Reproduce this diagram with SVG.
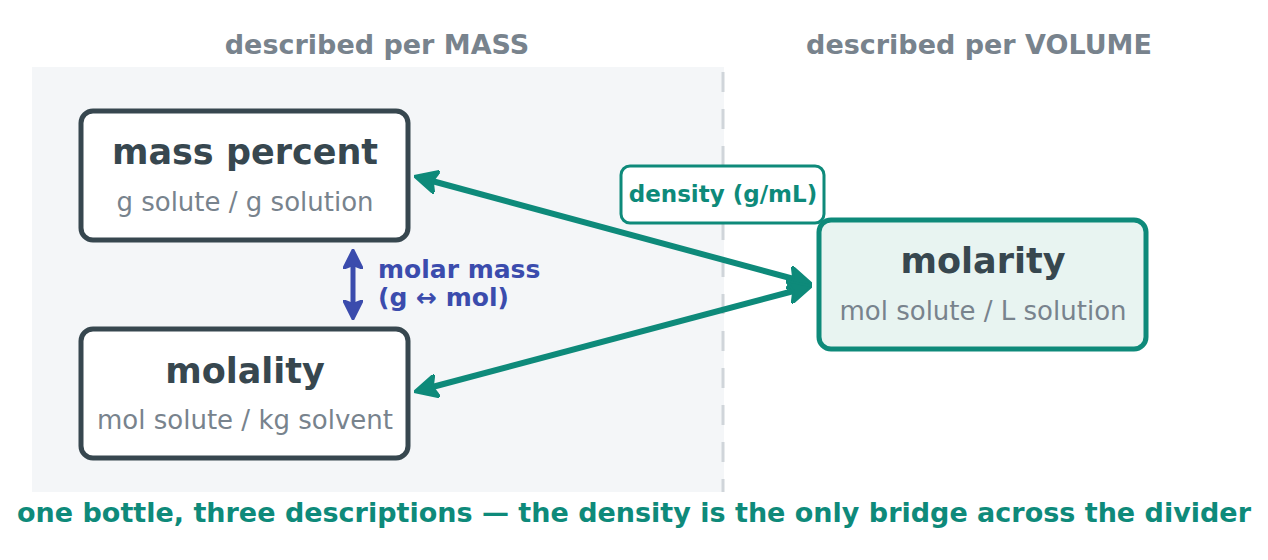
<svg xmlns="http://www.w3.org/2000/svg" width="1268" height="560" viewBox="0 0 1268 560">
<style>
text{font-family:"DejaVu Sans",sans-serif;text-anchor:middle}
.hdr{font-size:27px;font-weight:bold;fill:#78838d}
.ttl{font-size:35px;font-weight:bold;fill:#37474f}
.sub{font-size:26px;fill:#78838d}
.box{fill:#fff;stroke:#37474f;stroke-width:5}
.teal{stroke:#0e8a7a}
.conn{stroke:#0e8a7a;stroke-width:6;fill:none}
</style>
<defs>
<marker id="ht" viewBox="0 0 10 10" refX="7" refY="5" markerWidth="4" markerHeight="4" orient="auto-start-reverse" markerUnits="strokeWidth"><path d="M0,0 L10,5 L0,10 L2,5 Z" fill="#0e8a7a" stroke="#0e8a7a" stroke-width="1" stroke-linejoin="round"/></marker>
<marker id="hb" viewBox="0 0 10 10" refX="7" refY="5" markerWidth="4" markerHeight="4" orient="auto-start-reverse" markerUnits="strokeWidth"><path d="M0,0 L10,5 L0,10 L2,5 Z" fill="#3b4cad" stroke="#3b4cad" stroke-width="1" stroke-linejoin="round"/></marker>
</defs>
<rect x="32" y="67" width="692" height="425" fill="#f4f6f8"/>
<line x1="723" y1="72" x2="723" y2="492" stroke="#d0d5da" stroke-width="3" stroke-dasharray="20 17"/>
<text class="hdr" x="377" y="54">described per MASS</text>
<text class="hdr" x="979" y="54">described per VOLUME</text>
<g id="connectors">
<line class="conn" x1="421" y1="178" x2="805" y2="282" marker-start="url(#ht)" marker-end="url(#ht)"/>
<line class="conn" x1="421" y1="390" x2="805" y2="288" marker-start="url(#ht)" marker-end="url(#ht)"/>
<line x1="353" y1="255" x2="353" y2="314" stroke="#3b4cad" stroke-width="5" marker-start="url(#hb)" marker-end="url(#hb)"/>
</g>
<g id="mass-percent">
<rect class="box" x="81" y="111" width="327" height="129" rx="12"/>
<text class="ttl" x="245" y="164">mass percent</text>
<text class="sub" x="245" y="211">g solute / g solution</text>
</g>
<g id="molality">
<rect class="box" x="81" y="329" width="327" height="129" rx="12"/>
<text class="ttl" x="245" y="383">molality</text>
<text class="sub" x="245" y="429">mol solute / kg solvent</text>
</g>
<g id="molarity">
<rect class="box teal" x="819" y="220" width="327" height="129" rx="12" style="fill:#e8f4f1"/>
<text class="ttl" x="983" y="273">molarity</text>
<text class="sub" x="983" y="320">mol solute / L solution</text>
</g>
<g id="density-label">
<rect x="621" y="166" width="203" height="57" rx="9" fill="#fff" stroke="#0e8a7a" stroke-width="3"/>
<text x="723" y="202" style="font-size:23px;font-weight:bold;fill:#0e8a7a">density (g/mL)</text>
</g>
<g id="molar-mass-label">
<text x="378" y="278" style="font-size:25px;font-weight:bold;fill:#3b4cad;text-anchor:start">molar mass</text>
<text x="378" y="306" style="font-size:25px;font-weight:bold;fill:#3b4cad;text-anchor:start">(g ↔ mol)</text>
</g>
<text x="634" y="522" style="font-size:27px;font-weight:bold;fill:#0e8a7a">one bottle, three descriptions — the density is the only bridge across the divider</text>
</svg>
